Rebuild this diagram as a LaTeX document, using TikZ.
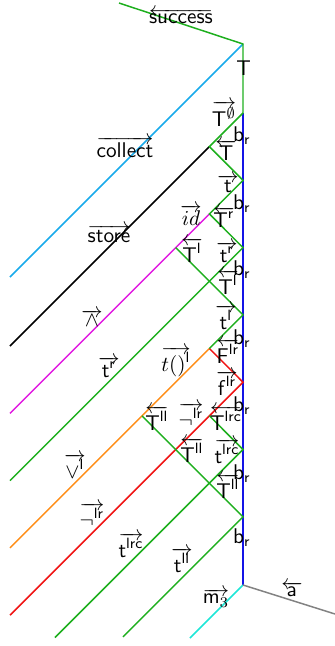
\documentclass[tikz,border=0pt]{standalone}
\usetikzlibrary{calc}
\definecolor{wgreen}{RGB}{30,175,30}
\definecolor{wsky}{RGB}{25,170,235}
\definecolor{wcyan}{RGB}{30,230,215}
\definecolor{worange}{RGB}{255,140,20}
\definecolor{wred}{RGB}{240,20,20}
\definecolor{wmag}{RGB}{225,25,225}
\definecolor{wblue}{RGB}{20,20,230}
\definecolor{wgray}{RGB}{130,130,130}
\newcommand{\sfl}[1]{\mathsf{#1}}
\begin{document}
\begin{tikzpicture}[x=0.47pt,y=-0.47pt,
  wire/.style={line width=0.7pt},
  lab/.style={inner sep=0pt,outer sep=0pt}]
\useasboundingbox (0,0) rectangle (335,646);
% vertices
\coordinate (top0) at (119,3);
\coordinate (v0) at (243,44);
\coordinate (r0) at (243,113);
\coordinate (l0) at (209.4,146.6);
\coordinate (r1) at (243,180.3);
\coordinate (l1) at (209.4,213.9);
\coordinate (r2) at (243,247.6);
\coordinate (j1) at (175.7,247.6);
\coordinate (r3) at (243,314.9);
\coordinate (l3) at (209.4,348.5);
\coordinate (r4) at (243,382.2);
\coordinate (j2) at (142.05,415.85);
\coordinate (l4) at (209.4,415.8);
\coordinate (r5) at (243,449.5);
\coordinate (r6) at (243,516.8);
\coordinate (bot) at (243,585);
% free ends
\coordinate (eCollect) at (10,277);
\coordinate (eStore) at (10,346);
\coordinate (eAnd) at (10,413.3);
\coordinate (eTr) at (10,480.6);
\coordinate (eOr) at (10,547.9);
\coordinate (eNot) at (10,615.2);
\coordinate (eTlrc) at (55,637.5);
\coordinate (eTll) at (123,636.8);
\coordinate (eM) at (190,638);
\coordinate (eA) at (335,614);
% wires
\draw[wire,wblue] (r0) -- (bot);
\draw[wire,wsky] (v0) -- (eCollect);
\draw[wire,black] (l0) -- (eStore);
\draw[wire,wmag] (l1) -- (eAnd);
\draw[wire,worange] (l3) -- (eOr);
\draw[wire,wred] (l3) -- (r4) -- (eNot);
\draw[wire,wgreen] (top0) -- (v0) -- (r0) -- (l0) -- (r1) -- (l1) -- (r2) -- (eTr);
\draw[wire,wgreen] (j1) -- (r3) -- (l3);
\draw[wire,wgreen] (l4) -- (r5) -- (eTlrc);
\draw[wire,wgreen] (j2) -- (r6) -- (eTll);
\draw[wire,wcyan] (bot) -- (eM);
\draw[wire,wgray] (bot) -- (eA);
% labels
\node[lab] (nSuccess) at (181,16) {$\overleftarrow{\sfl{success}}$};
\node[lab] (nT) at (243.5,68.5) {$\sfl{T}$};
\node[lab] (nTe) at (224,114) {$\overrightarrow{\sfl{T}^{\emptyset}}$};
\node[lab] (nB1) at (242,136) {$\sfl{b}_{\sfl{r}}$};
\node[lab] (nT2) at (226,150) {$\overleftarrow{\sfl{T}}$};
\node[lab] (nt) at (228,184) {$\overrightarrow{\sfl{t}}$};
\node[lab] (nB2) at (242,204) {$\sfl{b}_{\sfl{r}}$};
\node[lab] (nTr) at (224,217) {$\overleftarrow{\sfl{T}^{\sfl{r}}}$};
\node[lab] (nId) at (191,215) {$\overrightarrow{id}$};
\node[lab] (nTl1) at (192,250) {$\overleftarrow{\sfl{T}^{\sfl{l}}}$};
\node[lab] (ntr) at (227,252) {$\overrightarrow{\sfl{t}^{\sfl{r}}}$};
\node[lab] (nB3) at (242,270) {$\sfl{b}_{\sfl{r}}$};
\node[lab] (nTl2) at (228,282) {$\overleftarrow{\sfl{T}^{\sfl{l}}}$};
\node[lab] (ntl) at (226,317) {$\overrightarrow{\sfl{t}^{\sfl{l}}}$};
\node[lab] (nB4) at (242,339) {$\sfl{b}_{\sfl{r}}$};
\node[lab] (nFlr) at (228,351) {$\overleftarrow{\sfl{F}^{\sfl{lr}}}$};
\node[lab] (ntp) at (176,362) {$\overrightarrow{t()^{\sfl{l}}}$};
\node[lab] (nflr) at (227,383) {$\overrightarrow{\sfl{f}^{\sfl{lr}}}$};
\node[lab] (nB5) at (242,406) {$\sfl{b}_{\sfl{r}}$};
\node[lab] (nTll1) at (157,418) {$\overleftarrow{\sfl{T}^{\sfl{ll}}}$};
\node[lab] (nNot1) at (191,415) {$\overrightarrow{\neg^{\sfl{lr}}}$};
\node[lab] (nTlrc) at (226,418) {$\overleftarrow{\sfl{T}^{\sfl{lrc}}}$};
\node[lab] (nTll2) at (192,450) {$\overleftarrow{\sfl{T}^{\sfl{ll}}}$};
\node[lab] (ntlrc1) at (227,451) {$\overrightarrow{\sfl{t}^{\sfl{lrc}}}$};
\node[lab] (nB6) at (242,474) {$\sfl{b}_{\sfl{r}}$};
\node[lab] (nTll3) at (228,486) {$\overleftarrow{\sfl{T}^{\sfl{ll}}}$};
\node[lab] (nB7) at (242,538) {$\sfl{b}_{\sfl{r}}$};
\node[lab] (ntll) at (182,560) {$\overrightarrow{\sfl{t}^{\sfl{ll}}}$};
\node[lab] (nM3) at (216,598) {$\overrightarrow{\sfl{m}_3}$};
\node[lab] (nA) at (292,589) {$\overleftarrow{\sfl{a}}$};
\node[lab] (nCollect) at (125,147) {$\overrightarrow{\sfl{collect}}$};
\node[lab] (nStore) at (109,234) {$\overrightarrow{\sfl{store}}$};
\node[lab] (nAnd) at (92,318) {$\overrightarrow{\wedge}$};
\node[lab] (ntr2) at (109,367) {$\overrightarrow{\sfl{t}^{\sfl{r}}}$};
\node[lab] (nOr) at (75,466) {$\overrightarrow{\vee^{\sfl{l}}}$};
\node[lab] (nNot2) at (92,515) {$\overrightarrow{\neg^{\sfl{lr}}}$};
\node[lab] (ntlrc2) at (131,545) {$\overrightarrow{\sfl{t}^{\sfl{lrc}}}$};
\end{tikzpicture}
\end{document}
